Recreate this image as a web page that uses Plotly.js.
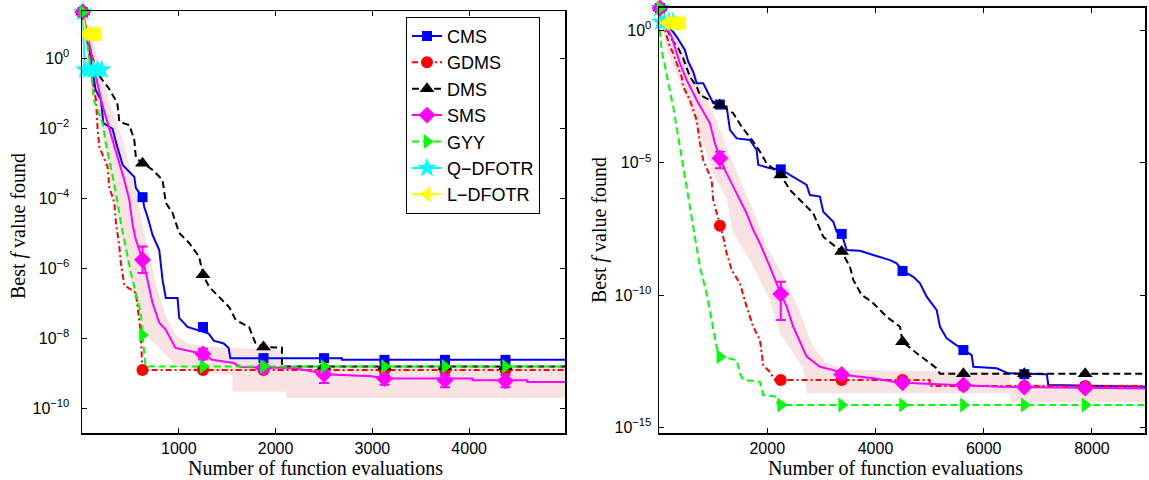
<!DOCTYPE html>
<html><head><meta charset="utf-8">
<script src="https://cdn.plot.ly/plotly-3.0.1.min.js"></script>
<style>html,body{margin:0;padding:0;background:#fff}#plot{width:1149px;height:480px}</style>
</head><body><div id="plot"></div>
<script>
// ---------------- DATA ----------------
const seriesNames = ['CMS','GDMS','DMS','SMS','GYY','Q\u2212DFOTR','L\u2212DFOTR'];

// marker x positions
const leftMarkX  = [7, 625, 1250, 1875, 2500, 3125, 3750, 4375];
const rightMarkX = [17, 1125, 2250, 3375, 4500, 5625, 6750, 7875];

// ---- Left panel lines ----
const L_cms_x = [7,69,141,196,220,316,350,420,540,557,625,643,677,729,798,832,866,987,1004,1090,1309,1361,1464,1515,1533,2685,2685,4990];
const L_cms_y = [20.9,2.4,0.123,0.0646,0.0141,9.55e-3,4.07e-3,8.91e-4,4.07e-4,1.95e-4,1.07e-4,5.62e-5,2.95e-5,8.91e-6,3.31e-6,4.68e-7,1.41e-7,1.41e-7,3.80e-8,2.09e-8,1.35e-8,8.51e-9,7.08e-9,5.25e-9,2.69e-9,2.69e-9,2.40e-9,2.40e-9];
const L_cms_my = [20.9,1.07e-4,2.09e-8,2.69e-9,2.69e-9,2.40e-9,2.40e-9,2.40e-9];

const L_gdms_x = [7,69,107,144,162,179,265,282,334,351,386,402,437,557,574,608,623,4990];
const L_gdms_y = [20.9,1.74,0.24,0.0646,8.91e-3,2.95e-3,7.76e-4,2.09e-4,7.41e-5,1.95e-5,4.07e-6,1.41e-6,3.31e-7,1.95e-7,7.76e-8,1.41e-8,1.23e-9,1.23e-9];
const L_gdms_my = [20.9,1.23e-9,1.23e-9,1.23e-9,1.23e-9,1.23e-9,1.23e-9,1.23e-9];

const L_dms_x = [7,48,107,193,275,365,386,489,540,557,625,729,832,866,935,1004,1107,1210,1250,1313,1416,1520,1588,1726,1790,1875,2066,2066,4990];
const L_dms_y = [20.9,4.68,1.02,0.275,0.141,0.0525,0.0151,0.0123,4.68e-3,1.41e-3,1.0e-3,6.46e-4,3.31e-4,7.41e-5,3.80e-5,1.02e-5,5.25e-6,2.14e-6,6.46e-7,2.95e-7,1.51e-7,7.76e-8,3.31e-8,2.09e-8,7.41e-9,5.62e-9,5.37e-9,1.55e-9,1.55e-9];
const L_dms_my = [20.9,1.0e-3,6.46e-7,5.62e-9,1.55e-9,1.55e-9,1.55e-9,1.55e-9];

const L_sms_x = [7,69,196,316,368,437,489,523,557,625,660,695,729,798,866,966,1120,1250,1344,1567,1636,2182,2389,2500,2995,3125,4036,4036,4600,4600,4990];
const L_sms_y = [20.9,3.31,0.0646,4.57e-3,1.51e-3,3.31e-4,8.91e-5,1.74e-5,6.46e-6,1.74e-6,7.41e-7,2.40e-7,1.02e-7,2.75e-8,1.74e-8,5.25e-9,4.17e-9,3.55e-9,2.40e-9,1.95e-9,1.51e-9,1.41e-9,1.12e-9,9.33e-10,8.13e-10,7.08e-10,7.08e-10,6.31e-10,6.31e-10,5.62e-10,5.62e-10];
const L_sms_my = [20.9,1.74e-6,3.55e-9,1.41e-9,9.33e-10,7.08e-10,6.31e-10,6.03e-10];
const L_sms_hi = [20.9,4.17e-6,5.0e-9,1.7e-9,1.23e-9,8.9e-10,8.9e-10,8.9e-10];
const L_sms_lo = [20.9,7.24e-7,2.5e-9,1.15e-9,5.25e-10,4.68e-10,3.98e-10,3.98e-10];

const L_band_hi_x = [7,110,275,420,502,574,636,708,780,863,966,1121,1512,2069,2069,4990];
const L_band_hi_y = [20.9,3.31,0.0646,4.57e-3,6.46e-4,8.91e-5,1.23e-5,1.74e-6,2.40e-7,4.68e-8,1.23e-8,6.46e-9,5.25e-9,4.68e-9,1.62e-9,1.62e-9];
const L_band_lo_x = [7,28,131,224,296,378,451,523,605,708,811,966,1172,1554,1554,2111,2111,4990];
const L_band_lo_y = [20.9,3.31,0.0646,4.57e-3,3.31e-4,2.40e-5,1.74e-6,2.40e-7,3.31e-8,8.91e-9,4.68e-9,1.74e-9,1.10e-9,8.91e-10,2.95e-10,2.95e-10,1.95e-10,1.95e-10];

const L_gyy_x = [7,38,90,121,213,247,316,351,402,454,505,574,608,625,657,4990];
const L_gyy_y = [20.9,5.25,0.562,0.0646,0.0141,3.80e-3,4.07e-4,1.41e-4,1.95e-5,3.31e-6,7.41e-7,1.23e-7,5.25e-8,1.23e-8,1.55e-9,1.55e-9];
const L_gyy_my = [20.9,1.23e-8,1.55e-9,1.55e-9,1.55e-9,1.55e-9,1.55e-9,1.55e-9];

const L_q_x = [7,28,70,115,160,203];
const L_q_y = [20.9,0.47,0.47,0.47,0.47,0.47];
const L_l_x = [7,38,70,100,130,162];
const L_l_y = [20.9,4.9,4.9,4.9,4.9,4.9];

// ---- Right panel lines ----
const R_cms_x = [17,165,325,479,540,632,695,817,1002,1250,1311,1434,1680,1804,1834,2050,2250,2481,2728,2789,2974,3035,3220,3283,3375,3468,3713,3959,4268,4392,4500,4699,4823,4946,5131,5192,5316,5625,5778,5808,6240,6455,7165,7194,8980];
const R_cms_y = [7.08,1.62,0.589,0.182,0.0661,0.0275,0.01,0.01,1.78e-3,1.32e-3,1.74e-4,8.32e-5,7.24e-5,3.02e-5,8.32e-6,6.17e-6,5.62e-6,2.95e-6,1.45e-6,6.03e-7,5.25e-7,1.41e-7,5.89e-8,2.45e-8,2.04e-8,5.01e-9,4.68e-9,3.24e-9,2.09e-9,1.58e-9,8.13e-10,4.90e-10,2.75e-10,8.71e-11,2.69e-11,6.31e-12,2.29e-12,8.32e-13,5.37e-13,1.95e-13,1.70e-13,1.10e-13,1.02e-13,3.98e-14,3.39e-14];
const R_cms_my = [7.08,1.58e-3,5.62e-6,2.04e-8,8.13e-10,8.32e-13,1.02e-13,3.39e-14];

const R_gdms_x = [17,109,201,262,325,418,447,571,695,756,817,972,1002,1125,1187,1250,1342,1495,1619,1741,1865,1926,2050,2142,5000,5000,8980];
const R_gdms_y = [7.08,1.05,0.245,0.138,0.0575,0.0178,7.59e-3,2.34e-3,4.17e-4,5.50e-5,1.26e-5,2.24e-6,3.89e-7,4.17e-8,1.58e-8,3.80e-9,8.91e-10,2.75e-10,3.63e-11,6.31e-12,2.0e-12,2.24e-13,1.23e-13,6.17e-14,6.17e-14,3.63e-14,3.63e-14];
const R_gdms_my = [7.08,4.17e-8,6.17e-14,6.17e-14,6.17e-14,3.63e-14,3.63e-14,3.63e-14];

const R_dms_x = [17,170,262,355,447,510,571,695,756,1125,1372,1527,1741,1865,1989,2250,2420,2728,2850,3035,3375,3529,3590,3745,3930,4207,4453,4500,4762,5131,5192,8980];
const R_dms_y = [7.08,0.891,0.38,0.214,0.0891,0.0427,0.0178,7.59e-3,3.63e-3,1.51e-3,7.41e-4,2.29e-4,6.31e-5,2.63e-5,9.55e-6,3.47e-6,9.33e-7,2.19e-7,1.23e-7,1.58e-8,4.37e-9,1.17e-9,3.72e-10,1.0e-10,5.62e-11,1.51e-11,6.31e-12,1.70e-12,6.31e-13,1.70e-13,1.05e-13,1.05e-13];
const R_dms_my = [7.08,1.51e-3,3.47e-6,4.37e-9,1.70e-12,1.05e-13,1.05e-13,1.05e-13];

const R_sms_x = [17,109,233,325,386,510,695,941,1033,1125,1250,1434,1619,1741,1865,2050,2250,2359,2481,2728,2974,3220,3468,3959,4329,4823,5562,6301,8980];
const R_sms_y = [7.08,1.62,0.589,0.138,0.0575,0.0135,2.34e-3,3.09e-4,5.50e-5,1.48e-5,3.98e-6,6.92e-7,1.23e-7,2.88e-8,8.91e-9,1.17e-9,1.10e-10,3.63e-11,6.31e-12,4.68e-13,1.95e-13,1.45e-13,9.33e-14,7.08e-14,5.25e-14,4.57e-14,3.98e-14,3.39e-14,2.95e-14];
const R_sms_my = [7.08,1.48e-5,1.10e-10,1.0e-13,4.79e-14,3.98e-14,3.31e-14,3.02e-14];
const R_sms_hi = [7.08,2.63e-5,3.16e-10,1.2e-13,5.6e-14,4.6e-14,3.8e-14,3.5e-14];
const R_sms_lo = [7.08,6.17e-6,1.15e-11,8.3e-14,4.1e-14,3.4e-14,2.9e-14,2.6e-14];

const R_band_hi_x = [17,238,479,756,978,1274,1496,1773,1976,2234,2512,2660,2826,3066,3436,6486,6486,8980];
const R_band_hi_y = [7.08,1.23,0.182,8.71e-3,9.77e-4,3.02e-5,2.24e-6,1.05e-7,7.76e-9,8.91e-10,6.46e-11,1.12e-11,1.29e-12,2.95e-13,1.48e-13,1.23e-13,4.37e-14,4.37e-14];
const R_band_lo_x = [17,72,146,516,811,996,1255,1366,1680,2050,2234,2660,2734,6486,6486,8980];
const R_band_lo_y = [7.08,1.05,0.182,2.34e-3,5.62e-5,4.07e-6,3.89e-7,2.19e-8,2.09e-9,6.46e-11,3.63e-12,1.91e-13,1.95e-14,1.95e-14,8.91e-15,8.91e-15];

const R_gyy_x = [17,18,48,109,170,262,386,510,632,756,880,1002,1065,1125,1434,1495,1556,1865,1926,2142,2203,8980];
const R_gyy_y = [7.08,0.776,0.182,0.0427,0.01,1.32e-3,4.07e-5,1.23e-6,3.80e-8,1.17e-9,1.15e-10,6.31e-12,1.12e-12,4.68e-13,3.47e-13,1.10e-13,6.17e-14,5.25e-14,1.66e-14,1.45e-14,6.92e-15,6.92e-15];
const R_gyy_my = [7.08,4.68e-13,6.92e-15,6.92e-15,6.92e-15,6.92e-15,6.92e-15,6.92e-15];

const R_q_x = [17,30,100,180,260];
const R_q_y = [7.08,2.1,2.1,2.1,2.1];
const R_l_x = [17,130,200,270,340,420];
const R_l_y = [7.08,1.91,1.91,1.91,1.91,1.91];

// Tick labels
const leftYTickVals = [1,1e-2,1e-4,1e-6,1e-8,1e-10];
const leftYTickText = ['10<sup>0</sup>','10<sup>\u22122</sup>','10<sup>\u22124</sup>','10<sup>\u22126</sup>','10<sup>\u22128</sup>','10<sup>\u221210</sup>'];
const rightYTickVals = [1,1e-5,1e-10,1e-15];
const rightYTickText = ['10<sup>0</sup>','10<sup>\u22125</sup>','10<sup>\u221210</sup>','10<sup>\u221215</sup>'];
const leftXTicks = [1000,2000,3000,4000];
const rightXTicks = [2000,4000,6000,8000];

// ---------------- STYLES ----------------
const sty = {
  'CMS':  {color:'#0000ff', dash:'solid', symbol:'square', size:10},
  'GDMS': {color:'#ff0000', dash:'6px,3px,2px,3px', symbol:'circle', size:12},
  'DMS':  {color:'#000000', dash:'7px,4px', symbol:'triangle-up', size:13},
  'SMS':  {color:'#ff00ff', dash:'solid', symbol:'diamond', size:13},
  'GYY':  {color:'#00ff00', dash:'7px,4px', symbol:'triangle-right', size:13},
  'Q\u2212DFOTR': {color:'#00ffff', dash:'solid', symbol:'star', size:15},
  'L\u2212DFOTR': {color:'#ffff00', dash:'solid', symbol:'triangle-left', size:14}
};
const LW = 2;

const traces = [];
function band(hx, hy, lx, ly, xa, ya) {
  traces.push({x: hx.concat(lx.slice().reverse()), y: hy.concat(ly.slice().reverse()),
    xaxis: xa, yaxis: ya, mode:'lines', fill:'toself', fillcolor:'rgb(248,226,226)',
    line:{width:0, color:'rgba(0,0,0,0)'}, showlegend:false, hoverinfo:'skip'});
}
function line(name, xs, ys, xa, ya) {
  const s = sty[name];
  traces.push({x:xs, y:ys, xaxis:xa, yaxis:ya, mode:'lines', showlegend:false,
    line:{color:s.color, width:LW, dash:s.dash}});
}
function marks(name, xs, ys, xa, ya, hi, lo) {
  const s = sty[name];
  const t = {x:xs, y:ys, xaxis:xa, yaxis:ya, mode:'markers', showlegend:false, cliponaxis:false,
    marker:{color:s.color, symbol:s.symbol, size:s.size, line:{width:0}}};
  if (hi) {
    t.error_y = {type:'data', symmetric:false,
      array: hi.map((v,i)=>v-ys[i]), arrayminus: lo.map((v,i)=>ys[i]-v),
      color:s.color, thickness:2, width:5};
  }
  traces.push(t);
}

band(L_band_hi_x, L_band_hi_y, L_band_lo_x, L_band_lo_y, 'x', 'y');
band(R_band_hi_x, R_band_hi_y, R_band_lo_x, R_band_lo_y, 'x2', 'y2');

const N = seriesNames;
line(N[0], L_cms_x, L_cms_y, 'x','y');
line(N[1], L_gdms_x, L_gdms_y, 'x','y');
line(N[2], L_dms_x, L_dms_y, 'x','y');
line(N[3], L_sms_x, L_sms_y, 'x','y');
line(N[4], L_gyy_x, L_gyy_y, 'x','y');
line(N[5], L_q_x, L_q_y, 'x','y');
line(N[6], L_l_x, L_l_y, 'x','y');
line(N[0], R_cms_x, R_cms_y, 'x2','y2');
line(N[1], R_gdms_x, R_gdms_y, 'x2','y2');
line(N[2], R_dms_x, R_dms_y, 'x2','y2');
line(N[3], R_sms_x, R_sms_y, 'x2','y2');
line(N[4], R_gyy_x, R_gyy_y, 'x2','y2');
line(N[5], R_q_x, R_q_y, 'x2','y2');
line(N[6], R_l_x, R_l_y, 'x2','y2');

marks(N[5], L_q_x, L_q_y, 'x','y');
marks(N[6], L_l_x, L_l_y, 'x','y');
marks(N[0], leftMarkX, L_cms_my, 'x','y');
marks(N[1], leftMarkX, L_gdms_my, 'x','y');
marks(N[2], leftMarkX, L_dms_my, 'x','y');
marks(N[3], leftMarkX, L_sms_my, 'x','y', L_sms_hi, L_sms_lo);
marks(N[4], leftMarkX, L_gyy_my, 'x','y');
marks(N[5], R_q_x, R_q_y, 'x2','y2');
marks(N[6], R_l_x, R_l_y, 'x2','y2');
marks(N[0], rightMarkX, R_cms_my, 'x2','y2');
marks(N[1], rightMarkX, R_gdms_my, 'x2','y2');
marks(N[2], rightMarkX, R_dms_my, 'x2','y2');
marks(N[3], rightMarkX, R_sms_my, 'x2','y2', R_sms_hi, R_sms_lo);
marks(N[4], rightMarkX, R_gyy_my, 'x2','y2');

// legend entries
N.forEach(n => {
  const s = sty[n];
  traces.push({x:[null], y:[null], xaxis:'x', yaxis:'y', name:n, mode:'lines+markers',
    line:{color:s.color, width:LW, dash:s.dash},
    marker:{color:s.color, symbol:s.symbol, size:s.size, line:{width:0}}});
});

const W = 1149, H = 480;
const tickFont = {family:'Liberation Sans, Arial, sans-serif', size:16, color:'#000'};
const axBase = {showline:true, linecolor:'#000', linewidth:1.5, mirror:'ticks', ticks:'inside',
  ticklen:5, tickwidth:1, tickcolor:'#000', showgrid:false, zeroline:false, tickfont:tickFont};
const serif = {family:'Liberation Serif, Times New Roman, serif', size:20, color:'#000'};

const layout = {
  width:W, height:H, margin:{l:0, r:0, t:0, b:0}, paper_bgcolor:'#fff', plot_bgcolor:'#fff',
  showlegend:true,
  xaxis: Object.assign({}, axBase, {domain:[82/W, 565/W], range:[0, 4990], tickmode:'array', tickvals:leftXTicks, anchor:'y'}),
  yaxis: Object.assign({}, axBase, {domain:[1-433/H, 1-11/H], type:'log', range:[-10.71, 1.35], tickmode:'array',
    tickvals:leftYTickVals, ticktext:leftYTickText, ticklabelstandoff:8, anchor:'x'}),
  xaxis2: Object.assign({}, axBase, {domain:[659/W, 1145/W], range:[0, 8980], tickmode:'array', tickvals:rightXTicks, anchor:'y2'}),
  yaxis2: Object.assign({}, axBase, {domain:[1-433/H, 1-7.7/H], type:'log', range:[-15.215, 0.86], tickmode:'array',
    tickvals:rightYTickVals, ticktext:rightYTickText, ticklabelstandoff:3, anchor:'x2'}),
  legend: {x:406/W, y:1-16.7/H, xanchor:'left', yanchor:'top', bgcolor:'#fff', bordercolor:'#000', borderwidth:1,
    font:{family:'Liberation Sans, Arial, sans-serif', size:18, color:'#000'}},
  annotations: [
    {text:'Number of function evaluations', xref:'paper', yref:'paper', x:315/W, y:1-468/H, showarrow:false, font:serif, xanchor:'center', yanchor:'middle'},
    {text:'Number of function evaluations', xref:'paper', yref:'paper', x:895/W, y:1-468/H, showarrow:false, font:serif, xanchor:'center', yanchor:'middle'},
    {text:'Best <i>f</i> value found', xref:'paper', yref:'paper', x:18/W, y:1-226/H, textangle:-90, showarrow:false, font:serif, xanchor:'center', yanchor:'middle'},
    {text:'Best <i>f</i> value found', xref:'paper', yref:'paper', x:599/W, y:1-230/H, textangle:-90, showarrow:false, font:serif, xanchor:'center', yanchor:'middle'}
  ]
};
Plotly.newPlot('plot', traces, layout, {displayModeBar:false, staticPlot:true});
</script></body></html>
